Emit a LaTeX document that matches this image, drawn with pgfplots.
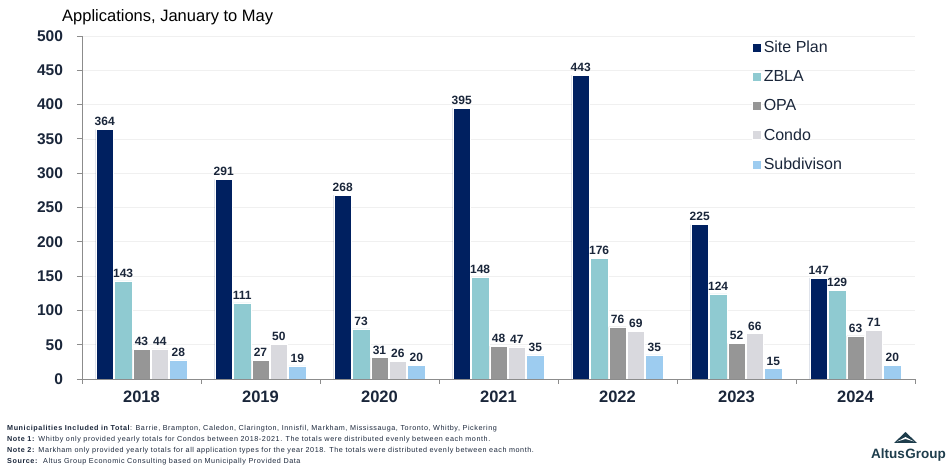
\documentclass[border=0pt]{standalone}
\usepackage{pgfplots}
\pgfplotsset{compat=1.18}
\usepackage{fontspec}
\setmainfont{Liberation Sans}
\definecolor{siteplan}{RGB}{0,32,96}
\definecolor{zbla}{RGB}{143,202,209}
\definecolor{opa}{RGB}{150,150,150}
\definecolor{condo}{RGB}{217,217,222}
\definecolor{subdiv}{RGB}{157,204,240}
\definecolor{txt}{RGB}{26,38,58}
\definecolor{logo}{RGB}{30,61,76}
\begin{document}
\begin{tikzpicture}[x=1pt,y=1pt]
\path (0,0) rectangle (947,468);
\begin{axis}[
  at={(82pt,89pt)}, anchor=south west,
  scale only axis, width=833pt, height=343pt,
  xmin=-0.5, xmax=6.5, ymin=0, ymax=500,
  ytick={0,50,...,500},
  xtick={0,...,6}, xticklabels={2018,2019,2020,2021,2022,2023,2024},
  minor xtick={-0.5,0.5,...,6.5},
  axis x line*=bottom, axis y line*=left,
  axis line style={draw=gray!90, line width=0.8pt, -},
  ymajorgrids, grid style={draw=gray!12, line width=0.7pt},
  tick align=outside, major tick length=5pt, minor tick length=5pt,
  major x tick style={draw=none},
  minor x tick style={draw=gray!90, line width=0.8pt},
  ytick style={draw=gray!90, line width=0.8pt},
  /pgf/number format/assume math mode=true,
  yticklabel style={font=\bfseries\fontsize{15.5}{15.5}\selectfont, text=txt, xshift=-10.5pt},
  xticklabel style={font=\bfseries\fontsize{16.5}{16.5}\selectfont, text=txt, yshift=-3pt},
  ybar=0.9pt, bar width=17.5pt,
  nodes near coords,
  every node near coord/.append style={font=\bfseries\fontsize{12}{12}\selectfont, text=txt},
  legend style={at={(axis description cs:0.802,0.998)}, anchor=north west, draw=none, fill=none,
    font=\fontsize{16}{16}\selectfont, text=txt, row sep=12.5pt, inner sep=2pt},
  legend cell align=left,
  legend image code/.code={\fill[#1] (0pt,-4.5pt) rectangle (9pt,4.5pt);},
]
\addplot[fill=siteplan, draw=white, line width=0.5pt] coordinates {(0,364) (1,291) (2,268) (3,395) (4,443) (5,225) (6,147)};
\addplot[fill=zbla, draw=white, line width=0.5pt] coordinates {(0,143) (1,111) (2,73) (3,148) (4,176) (5,124) (6,129)};
\addplot[fill=opa, draw=white, line width=0.5pt] coordinates {(0,43) (1,27) (2,31) (3,48) (4,76) (5,52) (6,63)};
\addplot[fill=condo, draw=white, line width=0.5pt] coordinates {(0,44) (1,50) (2,26) (3,47) (4,69) (5,66) (6,71)};
\addplot[fill=subdiv, draw=white, line width=0.5pt] coordinates {(0,28) (1,19) (2,20) (3,35) (4,35) (5,15) (6,20)};
\legend{Site Plan, ZBLA, OPA, Condo, Subdivison}
\end{axis}
\node[anchor=west, inner sep=0pt, font=\fontsize{16.5}{16.5}\selectfont] at (62,451) {Applications, January to May};
\begin{scope}[every node/.style={anchor=west, inner sep=0pt, font=\fontsize{7.2}{7.2}\selectfont\addfontfeatures{LetterSpace=8}, text=txt}]
\node at (7,39) {\textbf{Municipalities Included in Total}: Barrie, Brampton, Caledon, Clarington, Innisfil, Markham, Mississauga, Toronto, Whitby, Pickering};
\node at (7,28) {\textbf{Note 1:} Whitby only provided yearly totals for Condos between 2018-2021. The totals were distributed evenly between each month.};
\node at (7,17) {\textbf{Note 2:} Markham only provided yearly totals for all application types for the year 2018. The totals were distributed evenly between each month.};
\node at (7,6.5) {\textbf{Source:}\ \ Altus Group Economic Consulting based on Municipally Provided Data};
\end{scope}
\fill[logo] (894,25) -- (905.5,36) -- (917,25) -- cycle;
\fill[white] (897,26.5) -- (905.5,31) -- (914,26.5) -- (905.5,29) -- cycle;
\node[anchor=center, inner sep=0pt, text=logo, font=\bfseries\fontsize{13.5}{13.5}\selectfont] at (908.5,13) {Altus\kern0.5ptGroup};
\end{tikzpicture}
\end{document}
